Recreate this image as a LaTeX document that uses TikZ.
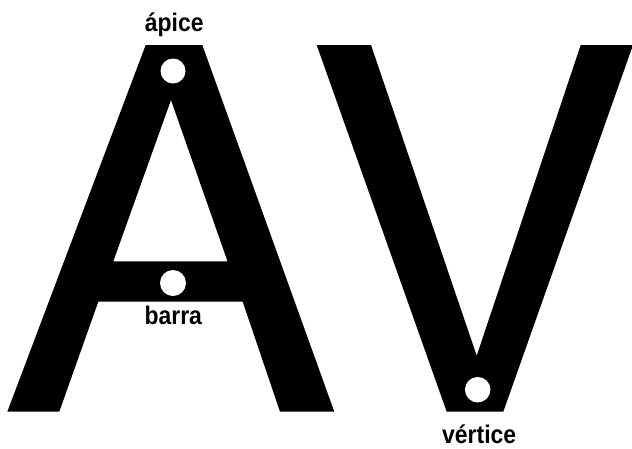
\documentclass[tikz,border=0pt]{standalone}
\usepackage{fontspec}
\newfontfamily\lblfont[FakeStretch=0.9]{Liberation Sans}
\begin{document}
\begin{tikzpicture}[x=1pt,y=-1pt,
  glyph/.style={fill=black,draw=none},
  hole/.style={circle,fill=white,draw=none,inner sep=0pt},
  lbl/.style={font=\lblfont\bfseries\fontsize{25.5}{29}\selectfont,inner sep=0pt,anchor=base}]
\useasboundingbox (0,0) rectangle (632,448);
% letter A
\fill[glyph,even odd rule]
  (145.7,45) -- (202.3,45) -- (334.3,411.7) -- (280,411.7) -- (242.7,301.7)
  -- (98.3,301.7) -- (59.3,411.7) -- (7.3,411.7) -- cycle
  (171,100) -- (227.5,261.3) -- (113.3,261.3) -- cycle;
% letter V
\begin{scope}
\clip (0,0) rectangle (632,448);
\fill[glyph] (316.7,45) -- (371,45) -- (476.7,355.7) -- (580.7,45) -- (633,45)
  -- (503.3,411.7) -- (446.7,411.7) -- cycle;
\end{scope}
% holes
\node[hole,minimum size=25pt] (apexhole) at (173,71) {};
\node[hole,minimum size=26pt] (barhole) at (173,283) {};
\node[hole,minimum size=25.5pt] (vertexhole) at (477.7,389.7) {};
% labels
\node[lbl] (apice) at (174.2,31.7) {ápice};
\node[lbl] (barra) at (173.3,324) {barra};
\node[lbl] (vertice) at (479.2,443.3) {vértice};
\end{tikzpicture}
\end{document}
